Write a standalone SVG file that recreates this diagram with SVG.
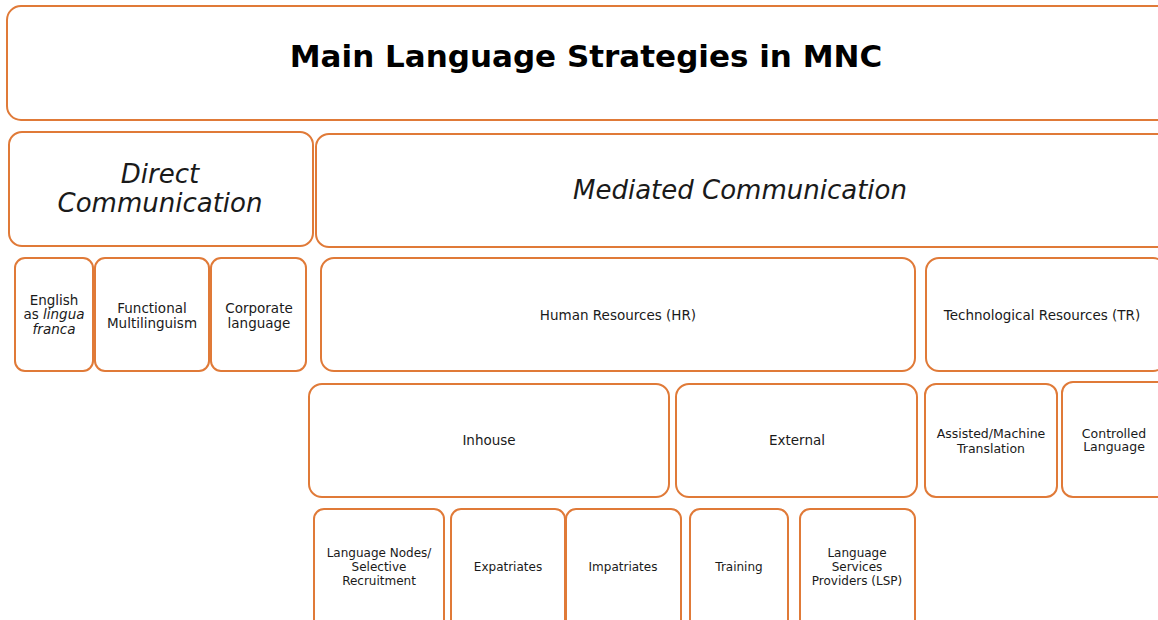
<svg xmlns="http://www.w3.org/2000/svg" width="1158" height="620" viewBox="0 0 1158 620">
<style>
.b{fill:#fff;stroke:#E07A38;stroke-width:2}
text{font-family:"DejaVu Sans","Liberation Sans",sans-serif;fill:#1a1a1a;text-anchor:middle}
.t{font-size:31px;font-weight:bold;fill:#000}
.h{font-size:26px;font-style:italic}
.m{font-size:13.5px}
.s{font-size:12.5px}
.x{font-size:12px}
</style>
<rect width="1158" height="620" fill="#fff"/>
<g id="connectors"/>
<g id="title"><rect class="b" x="7" y="6" width="1165" height="114" rx="14"/><text class="t" x="586" y="67">Main Language Strategies in MNC</text></g>
<g id="direct"><rect class="b" x="9" y="132" width="304" height="114" rx="13"/><text class="h" x="160" y="183">Direct</text><text class="h" x="160" y="212">Communication</text></g>
<g id="mediated"><rect class="b" x="316" y="134" width="860" height="113" rx="13"/><text class="h" x="740" y="199">Mediated Communication</text></g>
<g id="english"><rect class="b" x="15" y="258" width="78" height="113" rx="10"/><text class="m" x="54" y="305">English</text><text class="m" x="54" y="319">as <tspan font-style="italic">lingua</tspan></text><text class="m" x="54" y="334" font-style="italic">franca</text></g>
<g id="functional"><rect class="b" x="95" y="258" width="114" height="113" rx="10"/><text class="m" x="152" y="313">Functional</text><text class="m" x="152" y="328">Multilinguism</text></g>
<g id="corporate"><rect class="b" x="211" y="258" width="95" height="113" rx="10"/><text class="m" x="259" y="313">Corporate</text><text class="m" x="259" y="328">language</text></g>
<g id="hr"><rect class="b" x="321" y="258" width="594" height="113" rx="13"/><text class="m" x="618" y="320">Human Resources (HR)</text></g>
<g id="tr"><rect class="b" x="926" y="258" width="240" height="113" rx="13"/><text class="m" x="1042" y="320">Technological Resources (TR)</text></g>
<g id="inhouse"><rect class="b" x="309" y="384" width="360" height="113" rx="13"/><text class="m" x="489" y="445">Inhouse</text></g>
<g id="external"><rect class="b" x="676" y="384" width="241" height="113" rx="13"/><text class="m" x="797" y="445">External</text></g>
<g id="assisted"><rect class="b" x="925" y="384" width="132" height="113" rx="11"/><text class="s" x="991" y="438">Assisted/Machine</text><text class="s" x="991" y="453">Translation</text></g>
<g id="controlled"><rect class="b" x="1062" y="382" width="110" height="115" rx="11"/><text class="s" x="1114" y="438">Controlled</text><text class="s" x="1114" y="451">Language</text></g>
<g id="nodes"><rect class="b" x="314" y="509" width="130" height="130" rx="10"/><text class="x" x="379" y="557">Language Nodes/</text><text class="x" x="379" y="571">Selective</text><text class="x" x="379" y="585">Recruitment</text></g>
<g id="expatriates"><rect class="b" x="451" y="509" width="114" height="130" rx="10"/><text class="x" x="508" y="571">Expatriates</text></g>
<g id="impatriates"><rect class="b" x="566" y="509" width="115" height="130" rx="10"/><text class="x" x="623" y="571">Impatriates</text></g>
<g id="training"><rect class="b" x="690" y="509" width="98" height="130" rx="10"/><text class="x" x="739" y="571">Training</text></g>
<g id="lsp"><rect class="b" x="800" y="509" width="115" height="130" rx="10"/><text class="x" x="857" y="557">Language</text><text class="x" x="857" y="571">Services</text><text class="x" x="857" y="585">Providers (LSP)</text></g>
</svg>
